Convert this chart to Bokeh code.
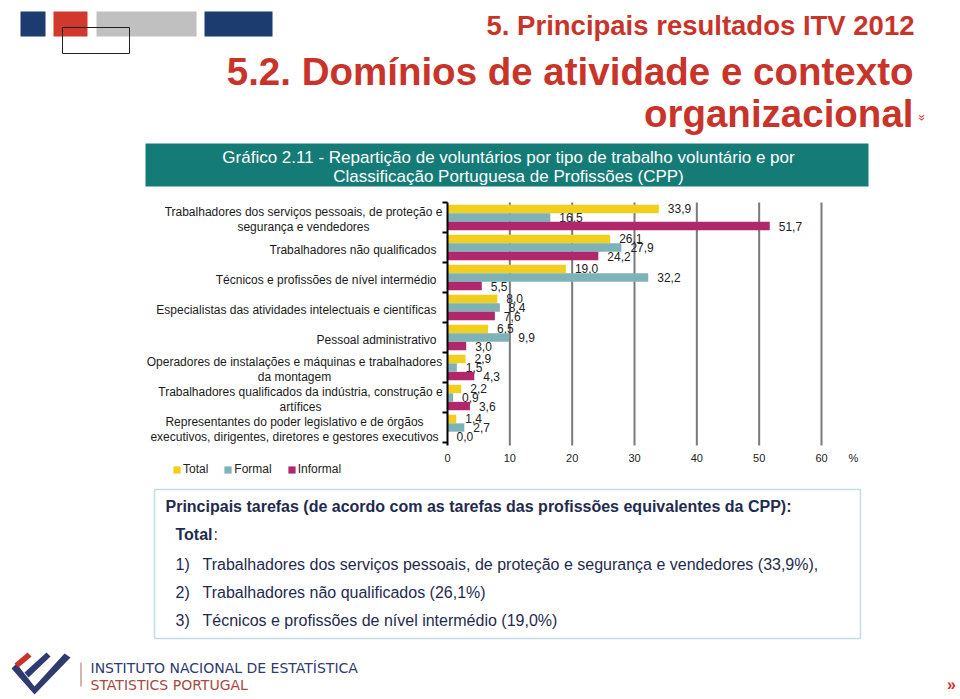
import math
from bokeh.plotting import figure
from bokeh.models import (Range1d, Label, BoxAnnotation, PolyAnnotation,
                          Legend, LegendItem, ColumnDataSource)
from bokeh.transform import dodge
from bokeh.embed import file_html
from bokeh.resources import INLINE
from bokeh.core.properties import value

# ---------------- data ----------------
categories = [
    "Trabalhadores dos serviços pessoais, de proteção e\nsegurança e vendedores",
    "Trabalhadores não qualificados",
    "Técnicos e profissões de nível intermédio",
    "Especialistas das atividades intelectuais e científicas",
    "Pessoal administrativo",
    "Operadores de instalações e máquinas e trabalhadores\nda montagem",
    "Trabalhadores qualificados da indústria, construção e\nartífices",
    "Representantes do poder legislativo e de órgãos\nexecutivos, dirigentes, diretores e gestores executivos",
]
total = [33.9, 26.1, 19.0, 8.0, 6.5, 2.9, 2.2, 1.4]
formal = [16.5, 27.9, 32.2, 8.4, 9.9, 1.5, 0.9, 2.7]
informal = [51.7, 24.2, 5.5, 7.6, 3.0, 4.3, 3.6, 0.0]
series_names = ["Total", "Formal", "Informal"]
x_ticks = [0, 10, 20, 30, 40, 50, 60]

page_title_1 = "5. Principais resultados ITV 2012"
page_title_2 = "5.2. Domínios de atividade e contexto"
page_title_3 = "organizacional"
chart_title_1 = "Gráfico 2.11 - Repartição de voluntários por tipo de trabalho voluntário e por"
chart_title_2 = "Classificação Portuguesa de Profissões (CPP)"
box_header = "Principais tarefas (de acordo com as tarefas das profissões equivalentes da CPP):"
box_items = [
    "Trabalhadores dos serviços pessoais, de proteção e segurança e vendedores (33,9%),",
    "Trabalhadores não qualificados (26,1%)",
    "Técnicos e profissões de nível intermédio (19,0%)",
]

# ---------------- style / layout ----------------
FONT = "Liberation Sans"
C_TOTAL, C_FORMAL, C_INFORMAL = "#F2CF1D", "#7DB3B7", "#B1276B"
RED = "#C9342A"
NAVY = "#1C3B6F"
TEAL = "#157B77"
TXT_NAVY = "#1F2B4E"
LOGO_NAVY = "#2E3A70"

W, H = 960, 699
VAL0_PX = 447            # pixel where value 0 sits
PX_PER_UNIT = 374 / 60   # pixels per percentage point
GRP_TOP_PX = 202         # top of first category band
GRP_PX = 30              # height of a category band
N = len(categories)
# horizontal placement of category labels (page px): centre for wrapped, right edge otherwise
cat_label_px = [303, 436, 436, 436, 436, 294, 300, 294]


def fmt(v):
    return f"{v:.1f}".replace(".", ",")


p = figure(width=W, height=H, x_range=Range1d(0, W), y_range=Range1d(H, 0),
           x_axis_type=None, y_axis_type=None, output_backend="svg",
           toolbar_location=None, min_border=0)
p.outline_line_color = None
p.background_fill_color = "white"
p.border_fill_color = "white"

p.extra_x_ranges = {"pct": Range1d(-VAL0_PX / PX_PER_UNIT, (W - VAL0_PX) / PX_PER_UNIT)}
p.extra_y_ranges = {"grp": Range1d((H - GRP_TOP_PX) / GRP_PX, -GRP_TOP_PX / GRP_PX)}
R = dict(x_range_name="pct", y_range_name="grp")

src = ColumnDataSource(dict(
    y=[i + 0.5 for i in range(N)],
    cat=categories,
    total=total, formal=formal, informal=informal,
    total_lbl=[fmt(v) for v in total],
    formal_lbl=[fmt(v) for v in formal],
    informal_lbl=[fmt(v) for v in informal],
    lbl_dx=[px - VAL0_PX for px in cat_label_px],
    lbl_align=["center" if "\n" in c else "right" for c in categories],
))

# vertical grid lines
grid_x = x_ticks[1:]
p.segment(x0=grid_x, x1=grid_x, y0=[0] * len(grid_x), y1=[N + 0.1] * len(grid_x),
          line_color="#7A7A7A", line_width=2, **R)

# bars + value labels
offsets = [-0.285, 0.0, 0.285]
cols = ["total", "formal", "informal"]
colors = [C_TOTAL, C_FORMAL, C_INFORMAL]
renderers = []
for col, off, c in zip(cols, offsets, colors):
    r = p.hbar(y=dodge("y", off), left=0, right=col, height=0.28,
               source=src, fill_color=c, line_color=None, **R)
    renderers.append(r)
    p.text(x=col, y=dodge("y", off), text=col + "_lbl", source=src,
           x_offset=9, text_baseline="middle", text_align="left",
           text_font=value(FONT), text_font_size="12px", text_color="#222222", **R)

# category axis: spine, ticks at band boundaries, labels
p.segment(x0=[0], x1=[0], y0=[0], y1=[N + 0.1], line_color="black", line_width=2, **R)
p.ray(x=[0] * (N + 1), y=list(range(N + 1)), length=5, length_units="screen",
      angle=math.pi, line_color="black", line_width=2, **R)
p.text(x=0, y="y", text="cat", source=src, x_offset="lbl_dx", text_align="lbl_align",
       text_baseline="middle", text_font=value(FONT), text_font_size="12px",
       text_color="#1A1A1A", text_line_height=1.1, y_offset=2, **R)

# value axis tick labels
p.text(x=x_ticks, y=[N] * len(x_ticks), text=[str(t) for t in x_ticks], y_offset=15,
       text_align="center", text_baseline="middle", text_font=value(FONT),
       text_font_size="11px", text_color="#222222", **R)
p.text(x=[x_ticks[-1]], y=[N], text=["%"], x_offset=32, y_offset=15,
       text_align="center", text_baseline="middle", text_font=value(FONT),
       text_font_size="11px", text_color="#222222", **R)

legend = Legend(items=[LegendItem(label=n, renderers=[r]) for n, r in zip(series_names, renderers)],
                orientation="horizontal", location=(172, H - 476),
                glyph_width=9, glyph_height=9, label_standoff=2, spacing=15,
                label_text_font=FONT, label_text_font_size="12px", label_text_color="#222222",
                label_height=12, padding=0, margin=0, border_line_color=None,
                background_fill_alpha=0)
p.add_layout(legend)


# ---------------- page decorations (pixel coordinates) ----------------
def box(x0, y0, x1, y1, **kw):
    p.add_layout(BoxAnnotation(left=x0, right=x1, top=y0, bottom=y1, **kw))


def lab(x, y, text, **kw):
    kw.setdefault("text_font", FONT)
    p.add_layout(Label(x=x, y=y, text=text, **kw))


def poly(pts, color):
    p.add_layout(PolyAnnotation(xs=[a for a, b in pts], ys=[b for a, b in pts],
                                fill_color=color, fill_alpha=1, line_color=None))


# header
box(20, 11, 45, 36, fill_color=NAVY, fill_alpha=1, line_color=None)
box(53, 11, 87, 36, fill_color="#D0392B", fill_alpha=1, line_color=None)
box(96, 11, 196, 36, fill_color="#C0C0C0", fill_alpha=1, line_color=None)
box(204, 11, 272, 36, fill_color=NAVY, fill_alpha=1, line_color=None)
box(62, 27, 129, 53, fill_alpha=0, line_color="#222222", line_width=1, line_alpha=1)

lab(914, 25, page_title_1, text_align="right", text_baseline="alphabetic",
    text_font_size="27.5px", text_font_style="bold", text_color=RED)
lab(913, 71, page_title_2, text_align="right", text_baseline="alphabetic",
    text_font_size="38.5px", text_font_style="bold", text_color=RED)
lab(913, 113, page_title_3, text_align="right", text_baseline="alphabetic",
    text_font_size="38.5px", text_font_style="bold", text_color=RED)
lab(921, 117, "»", text_align="center", text_baseline="middle", text_font_size="12px",
    text_color=RED, angle=-math.pi / 2)

# chart title band
box(145, 143, 868, 186, fill_color=TEAL, fill_alpha=1, line_color=None)
lab(508, 157, chart_title_1, text_align="center", text_baseline="middle",
    text_font_size="17px", text_color="white")
lab(508, 176, chart_title_2, text_align="center", text_baseline="middle",
    text_font_size="17px", text_color="white")

# bottom text box
box(154, 489, 860, 638, fill_alpha=0, line_color="#C6DCE3", line_width=1.5, line_alpha=1)
lab(165, 506, box_header, text_baseline="middle", text_font_size="16px",
    text_font_style="bold", text_color=TXT_NAVY)
lab(175, 534, "Total", text_baseline="middle", text_font_size="16px",
    text_font_style="bold", text_color=TXT_NAVY)
lab(213, 534, ":", text_baseline="middle", text_font_size="16px", text_color=TXT_NAVY)
for k, (item, yy) in enumerate(zip(box_items, [564, 592, 620])):
    lab(175, yy, f"{k + 1})", text_baseline="middle", text_font_size="16px", text_color=TXT_NAVY)
    lab(202, yy, item, text_baseline="middle", text_font_size="16px", text_color=TXT_NAVY)

# footer logo
poly([(11, 668), (34, 694), (70, 657), (64, 653), (34, 686), (16, 663)], LOGO_NAVY)
poly([(24, 672), (28, 677), (50, 656), (46, 652)], LOGO_NAVY)
poly([(14, 663), (18, 667), (31, 656), (27, 652)], RED)
box(80, 662, 81, 686, fill_color="#B0695E", fill_alpha=1, line_color=None)
lab(90, 667, "INSTITUTO NACIONAL DE ESTATÍSTICA", text_baseline="middle",
    text_font="DejaVu Sans", text_font_size="14px", text_color=LOGO_NAVY)
lab(90, 684, "STATISTICS PORTUGAL", text_baseline="middle",
    text_font="DejaVu Sans", text_font_size="14px", text_color="#A44A3F")
lab(951, 684, "»", text_align="center", text_baseline="middle", text_font_size="16px",
    text_font_style="bold", text_color=RED)

open("out.html", "w").write(file_html(p, INLINE))
